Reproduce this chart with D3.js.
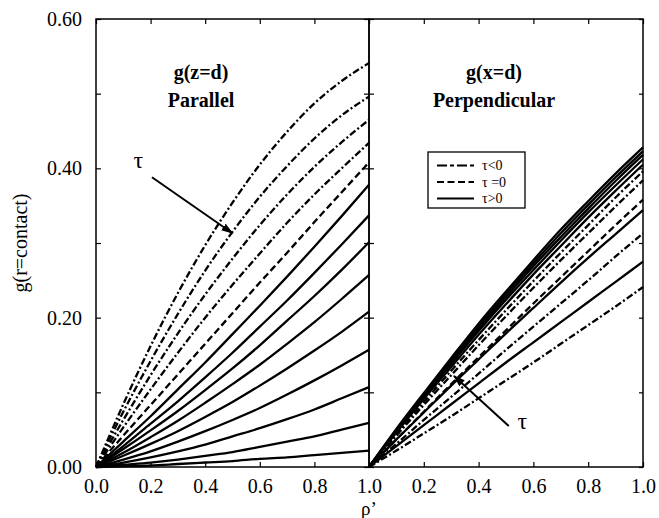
<!DOCTYPE html>
<html><head><meta charset="utf-8">
<script src="https://cdn.jsdelivr.net/npm/d3@7"></script>
<style>
html,body{margin:0;padding:0;background:#fff;}
svg text{font-family:"Liberation Serif","Times New Roman",serif;fill:#000;}
</style></head>
<body><svg id="chart" width="659" height="518"></svg>
<script>
// Reduced density rho' sampled along each curve
const rho = [0, 0.1, 0.2, 0.3, 0.4, 0.5, 0.6, 0.7, 0.8, 0.9, 1.0];
const xTickValues = [0, 0.2, 0.4, 0.6, 0.8, 1.0];
const yMajorTicks = [0, 0.2, 0.4, 0.6];
const yMinorTicks = [0.1, 0.3, 0.5];

// g(z=d), parallel direction
const parallelTauNeg = [
  [0, 0.084, 0.162, 0.233, 0.297, 0.354, 0.405, 0.449, 0.487, 0.517, 0.541],
  [0, 0.074, 0.142, 0.205, 0.263, 0.315, 0.362, 0.403, 0.440, 0.471, 0.496],
  [0, 0.063, 0.123, 0.179, 0.231, 0.279, 0.324, 0.365, 0.402, 0.435, 0.465],
  [0, 0.053, 0.104, 0.153, 0.200, 0.244, 0.286, 0.327, 0.365, 0.400, 0.434]
];
const parallelTauZero = [
  [0, 0.042, 0.083, 0.124, 0.165, 0.206, 0.247, 0.287, 0.328, 0.368, 0.408]
];
const parallelTauPos = [
  [0, 0.034, 0.068, 0.104, 0.140, 0.178, 0.216, 0.255, 0.295, 0.336, 0.378],
  [0, 0.028, 0.058, 0.088, 0.120, 0.153, 0.188, 0.223, 0.260, 0.298, 0.337],
  [0, 0.024, 0.049, 0.075, 0.103, 0.132, 0.163, 0.196, 0.229, 0.264, 0.301],
  [0, 0.019, 0.040, 0.062, 0.086, 0.111, 0.137, 0.165, 0.194, 0.225, 0.257],
  [0, 0.015, 0.031, 0.048, 0.067, 0.087, 0.109, 0.132, 0.156, 0.181, 0.208],
  [0, 0.010, 0.021, 0.034, 0.048, 0.063, 0.079, 0.097, 0.116, 0.136, 0.157],
  [0, 0.006, 0.013, 0.021, 0.030, 0.041, 0.052, 0.064, 0.077, 0.092, 0.107],
  [0, 0.003, 0.006, 0.010, 0.015, 0.020, 0.027, 0.034, 0.041, 0.050, 0.059],
  [0, 0.001, 0.002, 0.004, 0.006, 0.008, 0.011, 0.013, 0.016, 0.019, 0.022]
];

// g(x=d), perpendicular direction
const perpTauNeg = [
  [0, 0.044, 0.087, 0.129, 0.170, 0.210, 0.249, 0.287, 0.324, 0.361, 0.396],
  [0, 0.042, 0.083, 0.123, 0.163, 0.202, 0.240, 0.277, 0.313, 0.349, 0.384],
  [0, 0.031, 0.063, 0.094, 0.125, 0.157, 0.188, 0.219, 0.250, 0.282, 0.313],
  [0, 0.022, 0.045, 0.068, 0.092, 0.116, 0.140, 0.165, 0.190, 0.215, 0.241]
];
const perpTauZero = [
  [0, 0.037, 0.074, 0.111, 0.147, 0.183, 0.219, 0.254, 0.289, 0.324, 0.358]
];
const perpTauPos = [
  [0, 0.051, 0.099, 0.146, 0.192, 0.235, 0.277, 0.318, 0.356, 0.393, 0.428],
  [0, 0.050, 0.097, 0.144, 0.188, 0.232, 0.273, 0.313, 0.351, 0.388, 0.423],
  [0, 0.049, 0.096, 0.141, 0.185, 0.228, 0.269, 0.308, 0.346, 0.383, 0.418],
  [0, 0.048, 0.094, 0.138, 0.182, 0.224, 0.264, 0.303, 0.341, 0.377, 0.412],
  [0, 0.046, 0.091, 0.134, 0.177, 0.218, 0.258, 0.296, 0.334, 0.370, 0.405],
  [0, 0.037, 0.073, 0.109, 0.144, 0.179, 0.213, 0.247, 0.280, 0.312, 0.344],
  [0, 0.028, 0.056, 0.084, 0.112, 0.140, 0.167, 0.194, 0.221, 0.248, 0.275]
];

const legendLabels = ["\u03c4<0", "\u03c4 =0", "\u03c4>0"];
const panelTitles = [["g(z=d)", "Parallel"], ["g(x=d)", "Perpendicular"]];
const yTitle = "g(r=contact)";
const xTitle = "\u03c1\u2019";
const tauLabel = "\u03c4";

// annotation arrows, in data units of each panel: [rho, g]
const parallelArrow = { from: [0.205, 0.388], to: [0.50, 0.313], label: [0.155, 0.412] };
const perpArrow = { from: [0.51, 0.055], to: [0.31, 0.122], label: [0.56, 0.062] };

// ---- layout & styles ----
const plotLeft = 96, plotMid = 369, plotRight = 643, plotTop = 19, plotBottom = 467;
const dashStyles = { neg: "7,2.5,2,2.5", zero: "7,3.5", pos: null };

const svg = d3.select("#chart");
const y = d3.scaleLinear().domain([0, 0.6]).range([plotBottom, plotTop]);
const xL = d3.scaleLinear().domain([0, 1]).range([plotLeft, plotMid]);
const xR = d3.scaleLinear().domain([0, 1]).range([plotMid, plotRight]);

svg.append("defs").append("marker")
  .attr("id", "arrowhead").attr("viewBox", "0 0 12 8")
  .attr("refX", 11).attr("refY", 4)
  .attr("markerWidth", 12).attr("markerHeight", 8)
  .attr("markerUnits", "userSpaceOnUse").attr("orient", "auto")
  .append("path").attr("d", "M0,0 L12,4 L0,8 Z").attr("fill", "#000");

function drawCurves(g, x, sets) {
  const line = d3.line().x((d, i) => x(rho[i])).y(d => y(d)).curve(d3.curveMonotoneX);
  sets.forEach(([data, kind]) => {
    g.selectAll(null).data(data).enter().append("path")
      .attr("d", line)
      .attr("fill", "none").attr("stroke", "#000")
      .attr("stroke-width", 2.3)
      .attr("stroke-dasharray", dashStyles[kind]);
  });
}

const fmtX = d3.format(".1f"), fmtY = d3.format(".2f");
const allY = yMajorTicks.concat(yMinorTicks);
const isMajor = v => yMajorTicks.some(m => Math.abs(m - v) < 1e-9);

function styleAxis(g) {
  g.select(".domain").remove();
  g.selectAll("line").attr("stroke", "#000").attr("stroke-width", 1.2);
  g.selectAll("text").attr("font-size", 20).attr("font-family", "Liberation Serif, Times New Roman, serif");
}

// Left panel
const gL = svg.append("g");
drawCurves(gL, xL, [[parallelTauNeg, "neg"], [parallelTauZero, "zero"], [parallelTauPos, "pos"]]);
// Right panel
const gR = svg.append("g");
drawCurves(gR, xR, [[perpTauNeg, "neg"], [perpTauZero, "zero"], [perpTauPos, "pos"]]);

// Frames
[[plotLeft, plotMid], [plotMid, plotRight]].forEach(([a, b]) => {
  svg.append("rect").attr("x", a).attr("y", plotTop).attr("width", b - a).attr("height", plotBottom - plotTop)
    .attr("fill", "none").attr("stroke", "#000").attr("stroke-width", 1.5);
});

// Bottom axes (the shared 1.0 / 0.0 position carries a single label)
svg.append("g").attr("transform", `translate(0,${plotBottom})`)
  .call(d3.axisBottom(xL).tickValues(xTickValues).tickSize(-5).tickPadding(12).tickFormat(fmtX))
  .call(styleAxis);
svg.append("g").attr("transform", `translate(0,${plotBottom})`)
  .call(d3.axisBottom(xR).tickValues(xTickValues.slice(1)).tickSize(-5).tickPadding(12).tickFormat(fmtX))
  .call(styleAxis);
// Top axes
[xL, xR].forEach(x => {
  svg.append("g").attr("transform", `translate(0,${plotTop})`)
    .call(d3.axisTop(x).tickValues(xTickValues).tickSize(-5).tickFormat(""))
    .call(styleAxis);
});
// Left y axis
svg.append("g").attr("transform", `translate(${plotLeft},0)`)
  .call(d3.axisLeft(y).tickValues(allY).tickSize(-5).tickPadding(14)
    .tickFormat(d => isMajor(d) ? fmtY(d) : ""))
  .call(styleAxis);
// Shared divider ticks
svg.append("g").attr("transform", `translate(${plotMid},0)`)
  .call(d3.axisLeft(y).tickValues(allY).tickSize(5).tickFormat(""))
  .call(styleAxis);
svg.append("g").attr("transform", `translate(${plotMid},0)`)
  .call(d3.axisRight(y).tickValues(allY).tickSize(5).tickFormat(""))
  .call(styleAxis);
// Right y axis
svg.append("g").attr("transform", `translate(${plotRight},0)`)
  .call(d3.axisRight(y).tickValues(allY).tickSize(-4).tickFormat(""))
  .call(styleAxis);

// Titles
const titleX = [201, 494];
panelTitles.forEach((t, i) => {
  svg.append("text").attr("x", titleX[i]).attr("y", 79).attr("text-anchor", "middle")
    .attr("font-size", 20).attr("font-weight", "bold").text(t[0]);
  svg.append("text").attr("x", titleX[i]).attr("y", 107).attr("text-anchor", "middle")
    .attr("font-size", 20).attr("font-weight", "bold").text(t[1]);
});

// Axis titles
svg.append("text").attr("transform", "translate(27,243) rotate(-90)")
  .attr("text-anchor", "middle").attr("font-size", 20).text(yTitle);
svg.append("text").attr("x", plotMid).attr("y", 515).attr("text-anchor", "middle")
  .attr("font-size", 19).text(xTitle);

// Annotation arrows
[[parallelArrow, xL], [perpArrow, xR]].forEach(([a, x]) => {
  svg.append("line")
    .attr("x1", x(a.from[0])).attr("y1", y(a.from[1]))
    .attr("x2", x(a.to[0])).attr("y2", y(a.to[1]))
    .attr("stroke", "#000").attr("stroke-width", 2)
    .attr("marker-end", "url(#arrowhead)");
  svg.append("text").attr("x", x(a.label[0])).attr("y", y(a.label[1]))
    .attr("text-anchor", "middle").attr("dy", "0.35em")
    .attr("font-size", 24).text(tauLabel);
});

// Legend
const lg = svg.append("g").attr("transform", "translate(428,152)");
lg.append("rect").attr("width", 97).attr("height", 56)
  .attr("fill", "#fff").attr("stroke", "#000").attr("stroke-width", 1.3);
const legendKinds = ["neg", "zero", "pos"];
legendLabels.forEach((lab, i) => {
  const yy = 13.5 + i * 16.5;
  lg.append("line").attr("x1", 9).attr("x2", 46).attr("y1", yy).attr("y2", yy)
    .attr("stroke", "#000").attr("stroke-width", 2.2)
    .attr("stroke-dasharray", legendKinds[i] === "neg" ? "10,3,4,3" : dashStyles[legendKinds[i]]);
  lg.append("text").attr("x", 54).attr("y", yy).attr("dy", "0.35em")
    .attr("font-size", 14).text(lab);
});
</script>
</body></html>
